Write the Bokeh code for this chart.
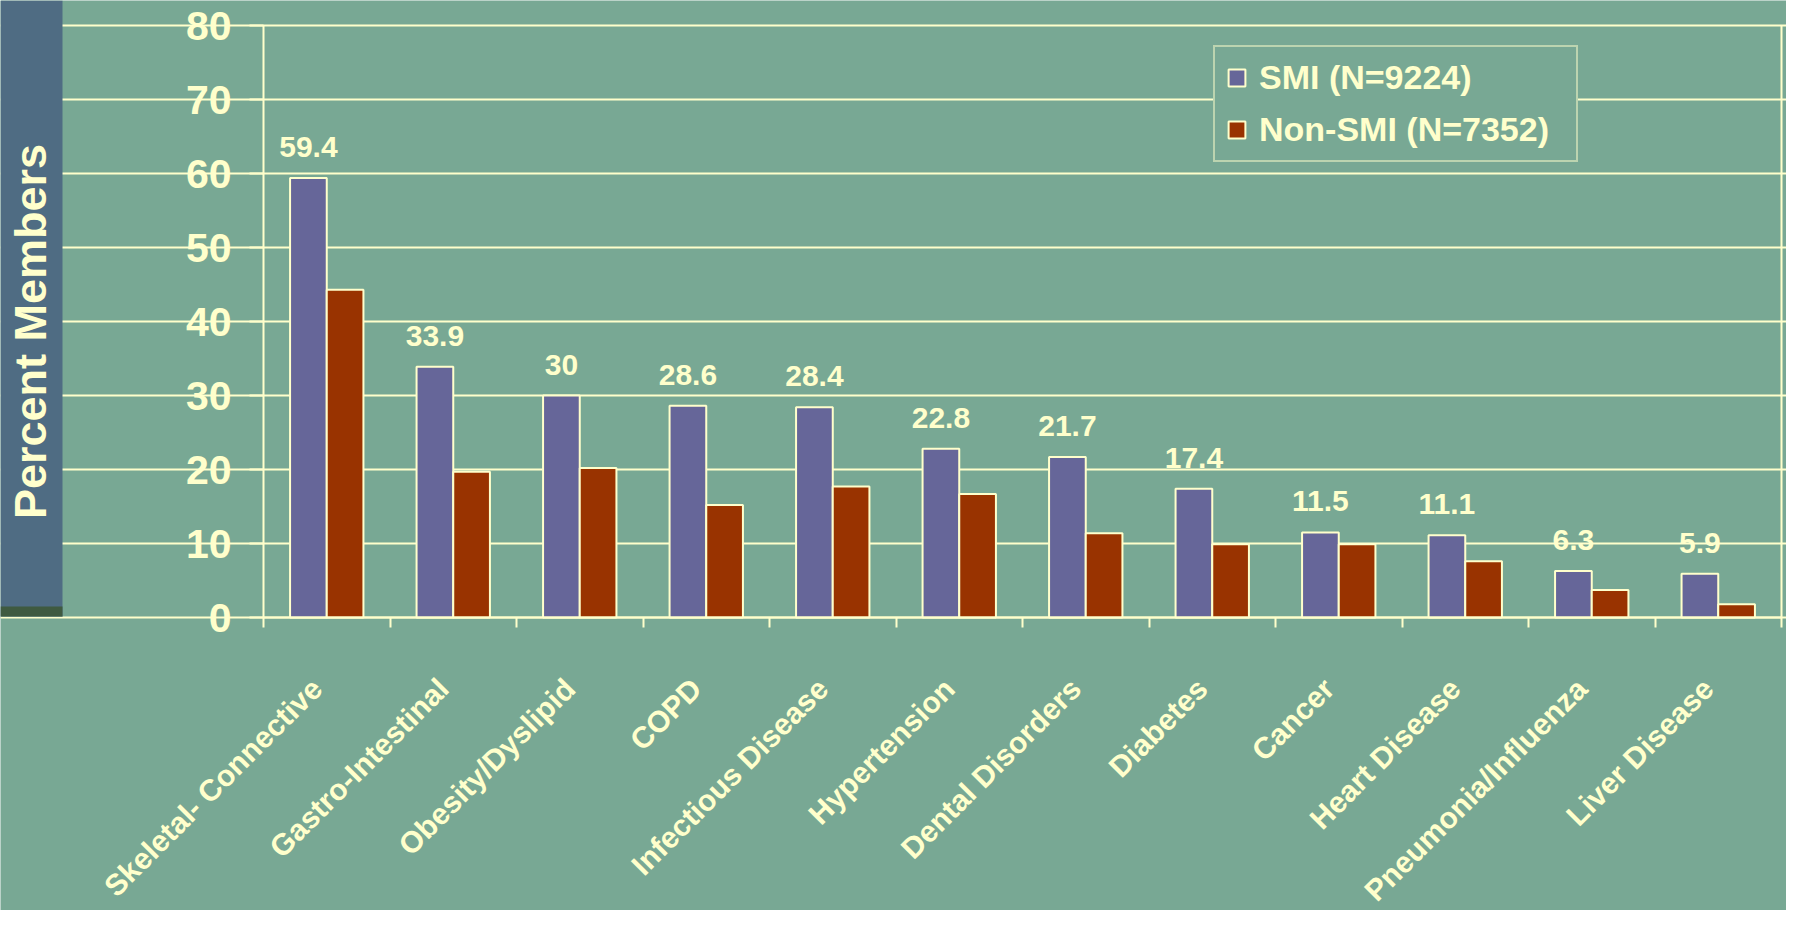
import math
from bokeh.plotting import figure
from bokeh.models import (Range1d, FixedTicker, Legend, LegendItem, ColumnDataSource,
                          LabelSet, Label, LinearAxis)
from bokeh.core.properties import value
from bokeh.transform import dodge
from bokeh.embed import file_html
from bokeh.resources import INLINE

categories = ["Skeletal- Connective", "Gastro-Intestinal", "Obesity/Dyslipid", "COPD",
              "Infectious Disease", "Hypertension", "Dental Disorders", "Diabetes",
              "Cancer", "Heart Disease", "Pneumonia/Influenza", "Liver Disease"]
smi = [59.4, 33.9, 30, 28.6, 28.4, 22.8, 21.7, 17.4, 11.5, 11.1, 6.3, 5.9]
non_smi = [44.3, 19.7, 20.2, 15.2, 17.7, 16.7, 11.4, 9.9, 9.9, 7.6, 3.7, 1.8]
y_ticks = [0, 10, 20, 30, 40, 50, 60, 70, 80]
series_names = ["SMI (N=9224)", "Non-SMI (N=7352)"]

BG = "#78A894"
CREAM = "#FFFFCC"
SMI_C = "#666699"
NON_C = "#993300"
PANEL = "#4F6C83"
STRIP = "#3F5A40"
FONT = "Liberation Sans"

# ---- layout constants (pixels in the figure) ----
FIG_W, FIG_H = 1786, 910
AX_L, AX_R = 263, 1781        # plot-area left / right edges
PX_TOP, PX_ZERO = 25, 617     # pixel rows of the 80 and 0 gridlines
PANEL_W, PANEL_B, STRIP_H = 62, 616, 10
N = len(categories)
Y_MAX = y_ticks[-1]

kx = (AX_R - AX_L) / N                 # px per category
ky = (PX_ZERO - PX_TOP) / Y_MAX        # px per percent
x_start = -0.5 - AX_L / kx
x_end = N - 0.5 + (FIG_W - AX_R) / kx
y_end = Y_MAX + PX_TOP / ky
y_start = -(FIG_H - PX_ZERO) / ky

def px_x(px):
    return x_start + px / kx

def px_y(px):
    return (PX_ZERO - px) / ky

idx = list(range(N))
src = ColumnDataSource(dict(x=idx, smi=smi, non=non_smi,
                            lab=[f"{v:g}" for v in smi]))
cat_src = ColumnDataSource(dict(x=idx, y=[0] * N, name=categories))

p = figure(width=FIG_W, height=FIG_H, output_backend="svg", toolbar_location=None,
           x_range=Range1d(x_start, x_end), y_range=Range1d(y_start, y_end),
           min_border_left=0, min_border_right=0, min_border_top=0,
           min_border_bottom=0, background_fill_color=BG,
           border_fill_color=BG, outline_line_color=None)

# left title panel
p.quad(left=x_start, right=px_x(PANEL_W), bottom=px_y(PANEL_B), top=y_end,
       fill_color=PANEL, line_color=None)
p.quad(left=x_start, right=px_x(PANEL_W), bottom=px_y(PANEL_B),
       top=px_y(PANEL_B - STRIP_H), fill_color=STRIP, line_color=None)
p.add_layout(Label(x=px_x(30), y=px_y(331), text="Percent Members", angle=math.pi / 2,
                   text_align="center", text_baseline="middle",
                   text_font=FONT, text_font_style="bold",
                   text_font_size="45px", text_color=CREAM))

r1 = p.vbar(x=dodge("x", -0.145, range=p.x_range), top="smi", width=0.29, source=src,
            fill_color=SMI_C, line_color=CREAM, line_width=2)
r2 = p.vbar(x=dodge("x", 0.145, range=p.x_range), top="non", width=0.29, source=src,
            fill_color=NON_C, line_color=CREAM, line_width=2)

p.add_layout(LabelSet(x=dodge("x", -0.145, range=p.x_range), y="smi", text="lab",
                      source=src, y_offset=21, text_align="center",
                      text_baseline="alphabetic", text_font=value(FONT),
                      text_font_style="bold", text_font_size="30px", text_color=CREAM))

# y axis
p.yaxis.fixed_location = -0.5
p.yaxis.ticker = FixedTicker(ticks=y_ticks)
p.yaxis.bounds = (0, Y_MAX)
p.yaxis.axis_line_color = CREAM
p.yaxis.axis_line_width = 2
p.yaxis.major_tick_line_color = CREAM
p.yaxis.major_tick_line_width = 2
p.yaxis.major_tick_out = 14
p.yaxis.major_tick_in = 0
p.yaxis.minor_tick_line_color = None
p.yaxis.major_label_standoff = 18
p.yaxis.major_label_text_font = FONT
p.yaxis.major_label_text_font_style = "bold"
p.yaxis.major_label_text_font_size = "41px"
p.yaxis.major_label_text_color = CREAM

# right border of the plot area
right = LinearAxis(fixed_location=N - 0.5, bounds=(0, Y_MAX), ticker=FixedTicker(ticks=[]),
                   axis_line_color=CREAM, axis_line_width=2,
                   major_tick_line_color=None, minor_tick_line_color=None,
                   major_label_text_font_size="0px")
p.add_layout(right, "right")

# x axis: tick marks at category boundaries
p.xaxis.fixed_location = 0
p.xaxis.bounds = (-0.5, N - 0.5)
p.xaxis.ticker = FixedTicker(ticks=[], minor_ticks=[i - 0.5 for i in range(N + 1)])
p.xaxis.axis_line_color = CREAM
p.xaxis.axis_line_width = 2
p.xaxis.major_tick_line_color = None
p.xaxis.minor_tick_line_color = CREAM
p.xaxis.minor_tick_line_width = 2
p.xaxis.minor_tick_out = 10
p.xaxis.minor_tick_in = 0

# category labels, rotated 45 degrees below the axis
p.add_layout(LabelSet(x="x", y="y", text="name", source=cat_src, angle=math.pi / 4,
                      x_offset=-10, y_offset=-66, text_align="right", text_baseline="middle",
                      text_font=value(FONT), text_font_style="bold",
                      text_font_size="30px", text_color=CREAM))

p.xgrid.visible = False
p.ygrid.grid_line_color = CREAM
p.ygrid.grid_line_width = 2
p.ygrid.bounds = (-0.5, N - 0.5)

legend = Legend(items=[LegendItem(label=series_names[0], renderers=[r1]),
                       LegendItem(label=series_names[1], renderers=[r2])],
                location=(1213, 748), padding=11, spacing=13, margin=0,
                glyph_width=21, glyph_height=21, label_standoff=12, label_height=35,
                label_width=306,
                label_text_font=FONT, label_text_font_style="bold",
                label_text_font_size="34px", label_text_color=CREAM,
                background_fill_color=BG, background_fill_alpha=1,
                border_line_color=CREAM, border_line_width=2)
p.add_layout(legend, "center")

open("out.html", "w").write(file_html(p, INLINE))
